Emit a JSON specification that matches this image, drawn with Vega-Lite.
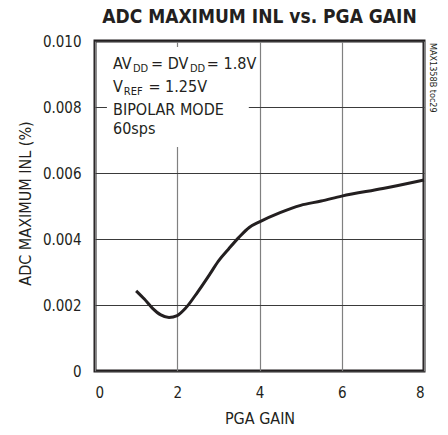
{
  "$schema": "https://vega.github.io/schema/vega-lite/v6.json",
  "width": 329,
  "height": 330,
  "autosize": {"type": "none"},
  "padding": {"left": 95, "top": 41, "right": 24, "bottom": 64},
  "background": "white",
  "title": {"text": "ADC MAXIMUM INL vs. PGA GAIN", "font": "DejaVu Sans Condensed, Roboto, sans-serif", "fontSize": 19, "fontWeight": "bold", "color": "#231f20", "anchor": "middle", "offset": 7},
  "config": {
    "view": {"stroke": "#231f20", "strokeWidth": 3},
    "text": {"font": "DejaVu Sans Condensed, Roboto, sans-serif", "color": "#231f20"}
  },
  "datasets": {
    "curve": [
      {"x": 1.0, "y": 0.00243},
      {"x": 1.2, "y": 0.00218},
      {"x": 1.4, "y": 0.00190},
      {"x": 1.6, "y": 0.00170},
      {"x": 1.8, "y": 0.00162},
      {"x": 2.0, "y": 0.00168},
      {"x": 2.2, "y": 0.00190},
      {"x": 2.5, "y": 0.00240},
      {"x": 2.8, "y": 0.00295},
      {"x": 3.0, "y": 0.00333},
      {"x": 3.25, "y": 0.00370},
      {"x": 3.5, "y": 0.00405},
      {"x": 3.75, "y": 0.00435},
      {"x": 4.0, "y": 0.00452},
      {"x": 4.5, "y": 0.00480},
      {"x": 5.0, "y": 0.00502},
      {"x": 5.5, "y": 0.00515},
      {"x": 6.0, "y": 0.00530},
      {"x": 7.0, "y": 0.00553},
      {"x": 8.0, "y": 0.00579}
    ],
    "box": [{"x": 0.29, "x2": 3.74, "y": 0.00679, "y2": 0.00982}],
    "mainText": [
      {"x": 0.438, "y": 0.0093, "t": "AV"},
      {"x": 1.362, "y": 0.0093, "t": "= DV"},
      {"x": 2.72, "y": 0.0093, "t": "= 1.8V"},
      {"x": 0.438, "y": 0.0086, "t": "V"},
      {"x": 1.30, "y": 0.0086, "t": "= 1.25V"},
      {"x": 0.438, "y": 0.00791, "t": "BIPOLAR MODE"},
      {"x": 0.438, "y": 0.00733, "t": "60sps"}
    ],
    "subText": [
      {"x": 0.924, "y": 0.0093, "t": "DD"},
      {"x": 2.31, "y": 0.0093, "t": "DD"},
      {"x": 0.70, "y": 0.0086, "t": "REF"}
    ],
    "code": [{"x": 8, "y": 0.00994, "t": "MAX1358B toc29"}]
  },
  "encoding": {
    "x": {
      "field": "x", "type": "quantitative",
      "scale": {"domain": [0, 8], "nice": false, "zero": false},
      "axis": {
        "title": "PGA GAIN", "values": [0, 2, 4, 6, 8],
        "grid": true, "gridColor": "#808080", "gridWidth": 1.2,
        "ticks": false, "domain": false,
        "labelFont": "DejaVu Sans Condensed, Roboto, sans-serif", "labelFontSize": 15, "labelColor": "#231f20", "labelPadding": 14,
        "titleFont": "DejaVu Sans Condensed, Roboto, sans-serif", "titleFontSize": 16, "titleFontWeight": "normal", "titleColor": "#231f20", "titlePadding": 10
      }
    },
    "y": {
      "field": "y", "type": "quantitative",
      "scale": {"domain": [0, 0.01], "nice": false, "zero": false},
      "axis": {
        "title": "ADC MAXIMUM INL (%)", "values": [0, 0.002, 0.004, 0.006, 0.008, 0.01],
        "labelExpr": "datum.value == 0 ? '0' : format(datum.value, '.3f')",
        "grid": true, "gridColor": "#3a3a3a", "gridWidth": 1.2,
        "ticks": false, "domain": false,
        "labelFont": "DejaVu Sans Condensed, Roboto, sans-serif", "labelFontSize": 15, "labelColor": "#231f20", "labelPadding": 14,
        "titleFont": "DejaVu Sans Condensed, Roboto, sans-serif", "titleFontSize": 16, "titleFontWeight": "normal", "titleColor": "#231f20",
        "titleX": -70, "titleY": 162, "titleBaseline": "middle", "titleAlign": "center", "titleAngle": -90
      }
    }
  },
  "layer": [
    {
      "data": {"name": "box"},
      "mark": {"type": "rect", "fill": "white", "stroke": null},
      "encoding": {"x2": {"field": "x2"}, "y2": {"field": "y2"}}
    },
    {
      "data": {"name": "curve"},
      "mark": {"type": "line", "color": "#231f20", "strokeWidth": 3, "interpolate": "monotone"},
      "encoding": {}
    },
    {
      "data": {"name": "mainText"},
      "mark": {"type": "text", "fontSize": 16, "align": "left", "baseline": "middle"},
      "encoding": {"text": {"field": "t"}}
    },
    {
      "data": {"name": "subText"},
      "mark": {"type": "text", "fontSize": 11, "align": "left", "baseline": "middle", "dy": 5},
      "encoding": {"text": {"field": "t"}}
    },
    {
      "data": {"name": "code"},
      "mark": {"type": "text", "fontSize": 9, "align": "left", "baseline": "middle", "angle": 90, "dy": -9},
      "encoding": {"text": {"field": "t"}}
    }
  ]
}
